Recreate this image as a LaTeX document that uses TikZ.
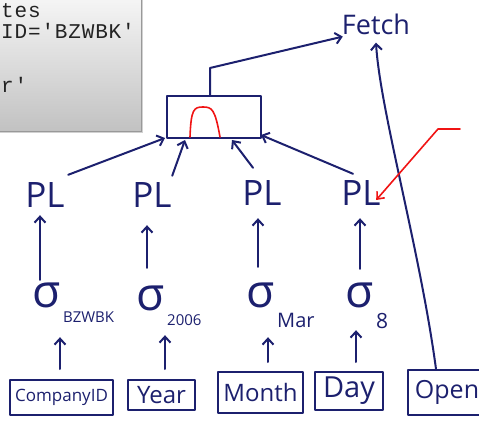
\documentclass[tikz,border=0pt]{standalone}
\usepackage{fontspec}
\usetikzlibrary{arrows.meta,calc}
\newfontfamily\handfont{Open Sans}
\newfontfamily\codefont{Liberation Mono}[LetterSpace=4]
\definecolor{ink}{RGB}{28,32,110}
\definecolor{mark}{RGB}{240,20,20}
\definecolor{codetext}{RGB}{35,35,35}
\newcommand{\fs}[1]{\fontsize{#1pt}{#1pt}\selectfont}

\begin{document}
\begin{tikzpicture}[x=1pt,y=-1pt,
  stroke/.style={draw=ink,line width=2pt,line cap=round,line join=round},
  arr/.style={stroke,-{Straight Barb[length=6pt,width=11pt]}},
  redarr/.style={draw=mark,line width=1.6pt,line cap=round,line join=round,-{Straight Barb[length=6pt,width=10pt]}},
  hand/.style={text=ink,inner sep=0pt,font=\handfont},
  plnode/.style={hand,minimum width=40pt,minimum height=28pt,font=\handfont\fs{35}},
  signode/.style={hand,minimum width=30pt,minimum height=30pt,font=\handfont\fs{46}},
  subnode/.style={hand,anchor=base west},
  tbl/.style={stroke,hand,rectangle},
  codeline/.style={anchor=base west,inner sep=0pt,text=codetext,font=\codefont\fs{21}}
]
\useasboundingbox (0,0) rectangle (479,422);

% query text panel
\shade[top color=white!96!black,bottom color=black!24] (0,-1) rectangle (141,131);
\draw[black!18,line width=1.2pt] (142.5,0) -- (142.5,132.5) -- (0,132.5);
\draw[black!40,line width=0.6pt] (141,0) -- (141,131) -- (0,131);
\node[codeline] (q1) at (1,18) {tes};
\node[codeline] (q2) at (1,39) {ID='BZWBK'};
\node[codeline] (q3) at (1,93) {r'};

% operators
\node[hand,font=\handfont\fs{27}] (fetch) at (376,24) {Fetch};
\node[stroke,rectangle,minimum width=94pt,minimum height=42pt,inner sep=0pt] (join) at (214,117) {};
\begin{scope}[shift={(join.center)}]
  \draw[draw=mark,line width=1.6pt,line cap=round]
    (-24,20) .. controls (-23,-8) and (-20,-10) .. (-11,-10)
    .. controls (-2,-10) and (1,-8) .. (6,20);
\end{scope}

\node[plnode] (pl1) at (45,195) {PL};
\node[plnode] (pl2) at (152,195) {PL};
\node[plnode] (pl3) at (262,193) {PL};
\node[plnode] (pl4) at (361,193) {PL};

\node[signode] (s1) at (47,295) {σ};
\node[signode] (s2) at (151,298) {σ};
\node[signode] (s3) at (261,295) {σ};
\node[signode] (s4) at (360,295) {σ};
\node[subnode,font=\handfont\fs{15}] (s1b) at (63,322) {BZWBK};
\node[subnode,font=\handfont\fs{15}] (s2b) at (167,325) {2006};
\node[subnode,font=\handfont\fs{20}] (s3b) at (277,327) {Mar};
\node[subnode,font=\handfont\fs{21}] (s4b) at (376,328) {8};

% base tables
\node[tbl,minimum width=103pt,minimum height=35pt,font=\handfont\fs{17}] (t1) at (61.5,397.5) {CompanyID};
\node[tbl,minimum width=67pt,minimum height=30pt,font=\handfont\fs{24}] (t2) at (161.5,395) {Year};
\node[tbl,minimum width=85pt,minimum height=41pt,font=\handfont\fs{24}] (t3) at (260.5,392.5) {Month};
\node[tbl,minimum width=68pt,minimum height=38pt,font=\handfont\fs{29}] (t4) at (349,391) {Day};
\node[tbl,minimum width=78pt,minimum height=45pt,font=\handfont\fs{25}] (t5) at (447,392.5) {Open};

% tables feed the selections
\draw[arr] ([shift={(-1.5pt,10pt)}]t1.north) -- ([shift={(13pt,-27pt)}]s1.south);
\draw[arr] ([shift={(3.5pt,10pt)}]t2.north) -- ([shift={(14pt,-22pt)}]s2.south);
\draw[arr] ([shift={(7.5pt,9pt)}]t3.north) -- ([shift={(7pt,-27pt)}]s3.south);
\draw[arr] ([shift={(7pt,9pt)}]t4.north) -- ([shift={(-4pt,-20pt)}]s4.south);

% selections feed the projections
\draw[arr] ([shift={(-7pt,0pt)}]s1.north) -- ([shift={(-5pt,-6pt)}]pl1.south);
\draw[arr] ([shift={(-4pt,15pt)}]s2.north) -- ([shift={(-5pt,-16pt)}]pl2.south);
\draw[arr] ([shift={(-3pt,13pt)}]s3.north) -- ([shift={(-4pt,-11pt)}]pl3.south);
\draw[arr] ([shift={(0pt,11pt)}]s4.north) -- ([shift={(-1pt,-11pt)}]pl4.south);

% projections feed the join
\draw[arr] ([shift={(3pt,6pt)}]pl1.north east) -- ([shift={(-1pt,1pt)}]join.south west);
\draw[arr] ([shift={(0pt,5pt)}]pl2.north east) -- ([xshift=-29pt,yshift=-1pt]join.south);
\draw[arr] ([shift={(-9pt,11pt)}]pl3.north) -- ([xshift=18pt,yshift=-1pt]join.south);
\draw[arr] ([shift={(-8pt,5pt)}]pl4.north) -- ([shift={(-1pt,4pt)}]join.south east);

% join and Open feed the fetch
\draw[arr] ([xshift=-4pt]join.north) -- ++(0,-27) -- ([shift={(1pt,-2pt)}]fetch.south west);
\draw[arr] ([xshift=-11pt]t5.north) .. controls (420,250) and (380,110) .. ([yshift=-8pt]fetch.south);

% annotation pointer
\coordinate (note) at (460,129);
\draw[redarr] (note) -- ++(-22,0) -- ([shift={(-5pt,-7pt)}]pl4.east);
\end{tikzpicture}
\end{document}
